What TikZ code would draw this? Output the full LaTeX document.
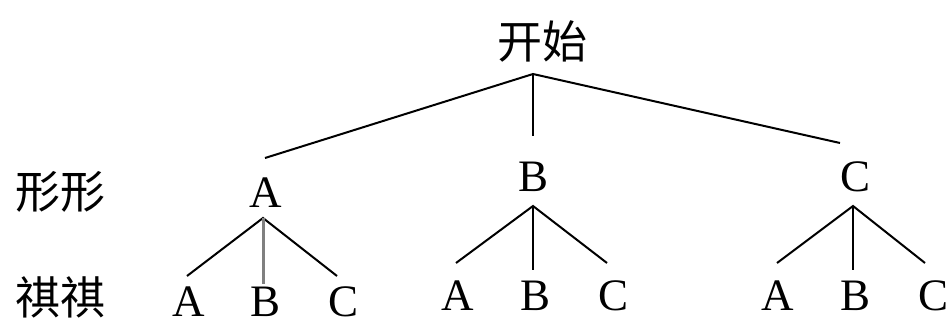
\documentclass[tikz,border=0pt]{standalone}
\usepackage{fontspec}
\setmainfont{Liberation Serif}
\newfontfamily\cjk{Noto Sans CJK SC}
\begin{document}
\begin{tikzpicture}[x=1pt,y=-1pt,
  lbl/.style={inner sep=0pt,font=\fontsize{45}{45}\selectfont},
  cj/.style={inner sep=0pt,font=\cjk\fontsize{45}{45}\selectfont},
  edge/.style={line width=2pt},
  grayedge/.style={line width=3pt,draw=black!50}]
\useasboundingbox (0,0) rectangle (950,324);
% labels
\node[cj] (root) at (542,41) {开始};
\node[cj] (rowone) at (61,192) {形形};
\node[cj] (rowtwo) at (61,297) {祺祺};
% level 1
\node[lbl] (A) at (266,193) {A};
\node[lbl] (B) at (534,177) {B};
\node[lbl] (C) at (855,177) {C};
% level 2
\node[lbl] (AA) at (189,302) {A};
\node[lbl] (AB) at (266,302) {B};
\node[lbl] (AC) at (344,302) {C};
\node[lbl] (BA) at (458,296) {A};
\node[lbl] (BB) at (535,296) {B};
\node[lbl] (BC) at (613,296) {C};
\node[lbl] (CA) at (778,296) {A};
\node[lbl] (CB) at (855,296) {B};
\node[lbl] (CC) at (933,296) {C};
% coordinates
\coordinate (r) at (533,74);
\coordinate (rA) at (265,158);
\coordinate (rB) at (533,136);
\coordinate (rC) at (840,143);
\coordinate (a) at (263,218);
\coordinate (aA) at (187,276);
\coordinate (aB) at (263,284);
\coordinate (aC) at (337,276);
\coordinate (b) at (533,206);
\coordinate (bA) at (456,263);
\coordinate (bB) at (533,270);
\coordinate (bC) at (607,263);
\coordinate (c) at (853,206);
\coordinate (cA) at (777,263);
\coordinate (cB) at (853,270);
\coordinate (cC) at (925,263);
% edges
\draw[edge] (rA) -- (r) -- (rC);
\draw[edge] (r) -- (rB);
\draw[edge] (aA) -- (a) -- (aC);
\draw[grayedge] (a) -- (aB);
\draw[edge] (bA) -- (b) -- (bC);
\draw[edge] (b) -- (bB);
\draw[edge] (cA) -- (c) -- (cC);
\draw[edge] (c) -- (cB);
\end{tikzpicture}
\end{document}
